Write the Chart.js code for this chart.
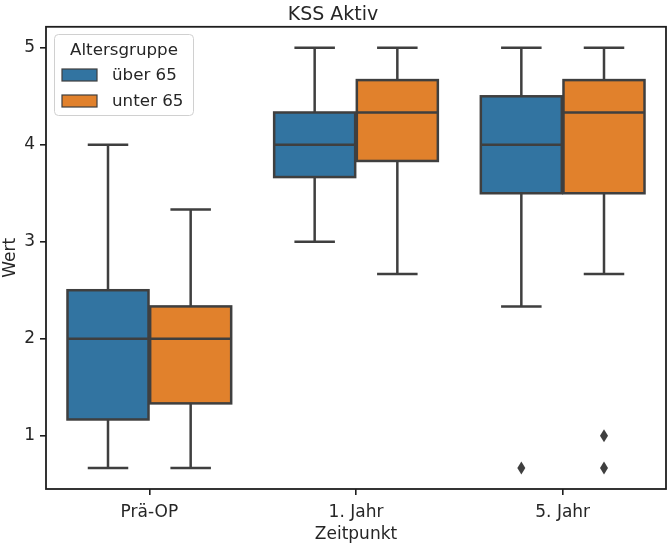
<!DOCTYPE html>
<html>
<head>
<meta charset="utf-8">
<script src="https://cdn.jsdelivr.net/npm/chart.js@4/dist/chart.umd.min.js"></script>
<style>html,body{margin:0;padding:0;background:#fff;}canvas{display:block;}</style>
</head>
<body>
<canvas id="c" width="669" height="543"></canvas>
<script>
const categories = ['Prä-OP', '1. Jahr', '5. Jahr'];
const groups = ['über 65', 'unter 65'];
const groupColors = ['#3274a1', '#e1812c'];
const yTicks = [1, 2, 3, 4, 5];

const over65Min = [0.667, 3.0, 2.333];
const over65Q1 = [1.167, 3.667, 3.5];
const over65Median = [2.0, 4.0, 4.0];
const over65Q3 = [2.5, 4.333, 4.5];
const over65Max = [4.0, 5.0, 5.0];
const over65Outliers = [[], [], [0.667]];

const under65Min = [0.667, 2.667, 2.667];
const under65Q1 = [1.333, 3.833, 3.5];
const under65Median = [2.0, 4.333, 4.333];
const under65Q3 = [2.333, 4.667, 4.667];
const under65Max = [3.333, 5.0, 5.0];
const under65Outliers = [[], [], [1.0, 0.667]];

const LINE = '#3f3f3f';
const TEXT = '#262626';
const FONT = 'DejaVu Sans';
const FS = 17;

function makeDataset(label, color, mn, q1, med, q3, mx, out) {
  return {
    label: label,
    data: categories.map((c, i) => [q1[i], q3[i]]),
    backgroundColor: color,
    borderWidth: 0,
    barPercentage: 0.98,
    categoryPercentage: 0.8,
    stats: { min: mn, median: med, max: mx, outliers: out }
  };
}

const boxPlugin = {
  id: 'boxParts',
  afterDatasetsDraw(chart) {
    const ctx = chart.ctx;
    const ys = chart.scales.y;
    ctx.save();
    ctx.strokeStyle = LINE;
    ctx.fillStyle = LINE;
    ctx.lineWidth = 2.5;
    ctx.lineCap = 'butt';
    ctx.lineJoin = 'miter';
    chart.data.datasets.forEach((ds, di) => {
      const meta = chart.getDatasetMeta(di);
      meta.data.forEach((el, i) => {
        const x = el.x;
        const w = el.width;
        const q1 = ds.data[i][0], q3 = ds.data[i][1];
        const pMin = ys.getPixelForValue(ds.stats.min[i]);
        const pMax = ys.getPixelForValue(ds.stats.max[i]);
        const pQ1 = ys.getPixelForValue(q1);
        const pQ3 = ys.getPixelForValue(q3);
        const pMed = ys.getPixelForValue(ds.stats.median[i]);
        // box outline
        ctx.strokeRect(x - w / 2, pQ3, w, pQ1 - pQ3);
        ctx.beginPath();
        // whiskers
        ctx.moveTo(x, pQ3); ctx.lineTo(x, pMax);
        ctx.moveTo(x, pQ1); ctx.lineTo(x, pMin);
        // caps
        ctx.moveTo(x - w / 4, pMax); ctx.lineTo(x + w / 4, pMax);
        ctx.moveTo(x - w / 4, pMin); ctx.lineTo(x + w / 4, pMin);
        // median
        ctx.moveTo(x - w / 2, pMed); ctx.lineTo(x + w / 2, pMed);
        ctx.stroke();
        // outliers
        ds.stats.outliers[i].forEach(v => {
          const py = ys.getPixelForValue(v);
          ctx.beginPath();
          ctx.moveTo(x, py - 6.5);
          ctx.lineTo(x + 4, py);
          ctx.lineTo(x, py + 6.5);
          ctx.lineTo(x - 4, py);
          ctx.closePath();
          ctx.fill();
        });
      });
    });
    ctx.restore();
  },
  afterDraw(chart) {
    const ctx = chart.ctx;
    const a = chart.chartArea;
    ctx.save();
    // frame
    ctx.strokeStyle = '#1e1e1e';
    ctx.lineWidth = 1.8;
    ctx.strokeRect(a.left, a.top, a.right - a.left, a.bottom - a.top);
    // legend
    const lx = 54, ly = 34, lw = 139, lh = 81;
    ctx.beginPath();
    ctx.roundRect(lx + 0.5, ly + 0.5, lw, lh, 4);
    ctx.fillStyle = 'rgba(255,255,255,0.85)';
    ctx.fill();
    ctx.strokeStyle = '#d0d0d0';
    ctx.lineWidth = 1;
    ctx.stroke();
    ctx.font = '16.7px "' + FONT + '"';
    ctx.fillStyle = TEXT;
    ctx.textBaseline = 'middle';
    ctx.textAlign = 'center';
    ctx.fillText('Altersgruppe', lx + lw / 2 + 0.5, 51);
    ctx.textAlign = 'left';
    chart.data.datasets.forEach((ds, di) => {
      const py = 69 + di * 26;
      ctx.fillStyle = ds.backgroundColor;
      ctx.fillRect(62, py, 35, 12);
      ctx.strokeStyle = LINE;
      ctx.lineWidth = 1.2;
      ctx.strokeRect(62, py, 35, 12);
      ctx.fillStyle = TEXT;
      ctx.fillText(ds.label, 112, py + 6.5);
    });
    ctx.restore();
  }
};

new Chart(document.getElementById('c'), {
  type: 'bar',
  data: {
    labels: categories,
    datasets: [
      makeDataset(groups[0], groupColors[0], over65Min, over65Q1, over65Median, over65Q3, over65Max, over65Outliers),
      makeDataset(groups[1], groupColors[1], under65Min, under65Q1, under65Median, under65Q3, under65Max, under65Outliers)
    ]
  },
  options: {
    responsive: false,
    animation: false,
    layout: { padding: { left: 0, right: 3, top: 0, bottom: 0 } },
    plugins: {
      legend: { display: false },
      tooltip: { enabled: false },
      title: {
        display: true,
        text: 'KSS Aktiv',
        color: TEXT,
        font: { family: FONT, size: 19, weight: 'normal' },
        padding: { top: 4, bottom: 0 }
      }
    },
    scales: {
      x: {
        type: 'category',
        border: { display: false },
        grid: { display: true, drawOnChartArea: false, drawTicks: true, tickLength: 6, offset: false, color: '#1e1e1e', lineWidth: 1.6 },
        ticks: { color: TEXT, font: { family: FONT, size: FS }, padding: 7 },
        title: { display: true, text: 'Zeitpunkt', color: TEXT, font: { family: FONT, size: FS }, padding: { top: 0, bottom: -2 } },
        afterFit(s) { s.height = 54; }
      },
      y: {
        type: 'linear',
        min: 0.45,
        max: 5.2167,
        border: { display: false },
        grid: { display: true, drawOnChartArea: false, drawTicks: true, tickLength: 6, color: '#1e1e1e', lineWidth: 1.6 },
        ticks: { color: TEXT, font: { family: FONT, size: FS }, padding: 5 },
        afterBuildTicks(s) { s.ticks = yTicks.map(v => ({ value: v })); },
        title: { display: true, text: 'Wert', color: TEXT, font: { family: FONT, size: FS }, padding: { top: 0, bottom: 0 } },
        afterFit(s) { s.width = 46; }
      }
    }
  },
  plugins: [boxPlugin]
});
</script>
</body>
</html>
